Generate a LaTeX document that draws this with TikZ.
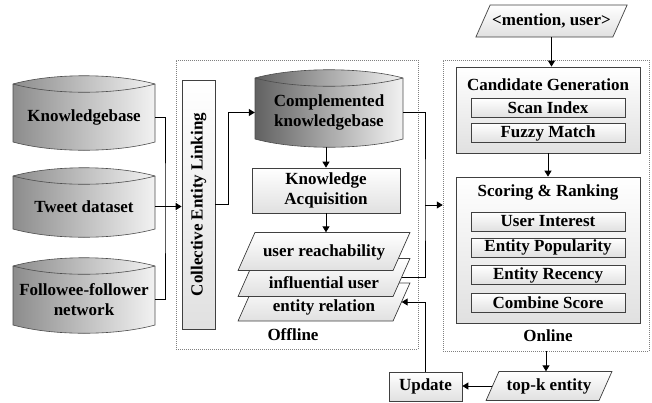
\documentclass[tikz,border=0pt]{standalone}
\usepackage{fontspec}
\setmainfont{Liberation Serif}
\usetikzlibrary{arrows.meta}

\begin{document}
\begin{tikzpicture}
[x=1pt,y=-1pt,
  every node/.style={font=\fontsize{17}{20}\selectfont\bfseries,align=center},%
  boxdecorate/.style={draw=black!75,line width=0.7pt,top color=white,bottom color=black!12,inner sep=0pt},%
  itemdecorate/.style={boxdecorate,minimum width=154,minimum height=19},%
  areadecorate/.style={draw=black!50,dash pattern=on 1pt off 1pt,line width=0.5pt,inner sep=0pt},%
  linedecorate/.style={line width=1pt,>={Triangle[length=6pt,width=7pt]}}]
\useasboundingbox (0,0) rectangle (652,402);

%% offline and online areas
\node (offline) at (297,204.5) [areadecorate,minimum width=242,minimum height=289] {};
\node (online) at (546,205.5) [areadecorate,minimum width=206,minimum height=291] {};

%% databases
\foreach \drumname/\xl/\xr/\ytop/\ybot/\dark/\drumtext in {
  kb/13/155/84/142/45/Knowledgebase, tw/13/155/176/229/45/{Tweet dataset},
  ff/13/155/266/325/45/{Followee-follower\\network},
  ckb/255/403/78/139/62/{Complemented\\knowledgebase}}
{
  \path[draw=black!70,line width=0.6pt,left color=black!\dark,right color=black!5]
    (\xl,\ytop) .. controls +(40,-11) and +(-40,-11) .. (\xr,\ytop) -- (\xr,\ybot)
    .. controls +(-40,11) and +(40,11) .. (\xl,\ybot) -- cycle;
  \draw[black!70,line width=0.6pt] (\xl,\ytop) .. controls +(40,11) and +(-40,11) .. (\xr,\ytop);
  \node (\drumname) at ({(\xl+\xr)/2},{(\ytop+\ybot)/2+4})
    [minimum width=\xr-\xl,minimum height=\ybot-\ytop+8,inner sep=0pt] {\drumtext};
}

%% slanted data boxes (drawn back to front)
\foreach \slantname/\cx/\cy/\ty/\w/\h/\slanttext in {
  er/324/302/307/155/38/entity relation, iu/324/277.5/283/155/38/influential user,
  ur/324/251.5/252/155/38/user reachability,
  mu/551.5/21/21/137/32/{<mention, user>}, topk/549/386/386/113/29/top-k entity}
{
  \pgfmathsetmacro\dx{0.445*\h/2}
  \path[boxdecorate] ({\cx-\w/2-\dx},{\cy+\h/2}) -- ({\cx-\w/2+\dx},{\cy-\h/2})
    -- ({\cx+\w/2+\dx},{\cy-\h/2}) -- ({\cx+\w/2-\dx},{\cy+\h/2}) -- cycle;
  \node (\slantname) at (\cx,\cy) [minimum width=\w,minimum height=\h,inner sep=0pt] {};
  \node (\slantname text) at (\cx,\ty) {\slanttext};
}

%% offline part
\node (cel) at (198.5,204.5) [boxdecorate,minimum width=33,minimum height=249]
  {\rotatebox{90}{Collective Entity Linking}};
\node (ka) at (326,190.5) [boxdecorate,minimum width=148,minimum height=45] {Knowledge\\Acquisition};
\node (offline label) at (293,335) {Offline};

%% online part
\node (cg) at (548,110) [boxdecorate,minimum width=184,minimum height=86] {};
\node (cg title) at (548,85) {Candidate Generation};
\node (sr) at (548,250) [boxdecorate,minimum width=184,minimum height=146] {};
\node (sr title) at (548,192) {Scoring \& Ranking};
\foreach \itemname/\y/\itemtext in {
  scan/108/Scan Index, fuzzy/133/Fuzzy Match,
  interest/221.5/User Interest, popularity/247.5/Entity Popularity,
  recency/275/Entity Recency, combine/303/Combine Score}
{
  \node (\itemname) at (548,\y) [itemdecorate] {\itemtext};
}
\node (online label) at (548,336) {Online};
\node (upd) at (425.5,386.5) [boxdecorate,minimum width=73,minimum height=29] {Update};

%% edges or lines
\coordinate (lbus) at (165,208);
\coordinate (rbus) at (425,205);
\draw[linedecorate] (kb.east) -| (lbus) |- (ff.east);
\draw[linedecorate,->] (tw.east) -- (tw.east -| cel.west);
\draw[linedecorate,->] (cel.east) -- ++(13,0) |- (ckb.west);
\draw[linedecorate,->] (ka.north |- ckb.south) -- (ka.north);
\draw[linedecorate,->] (ka.south) -- (ka.south |- ur.north);
\draw[linedecorate] (ckb.east) -| (rbus) |- (iu.east);
\draw[linedecorate,->] (rbus) -- (rbus -| online.west);
\draw[linedecorate,->] (mu.south) -- (mu.south |- cg.north);
\draw[linedecorate,->] (cg.south) -- (sr.north);
\draw[linedecorate,->] (online.south) -- (online.south |- topk.north);
\draw[linedecorate,->] (topk.west) -- (topk.west -| upd.east);
\draw[linedecorate,->] (upd.north) |- (er.east);
\end{tikzpicture}
\end{document}
